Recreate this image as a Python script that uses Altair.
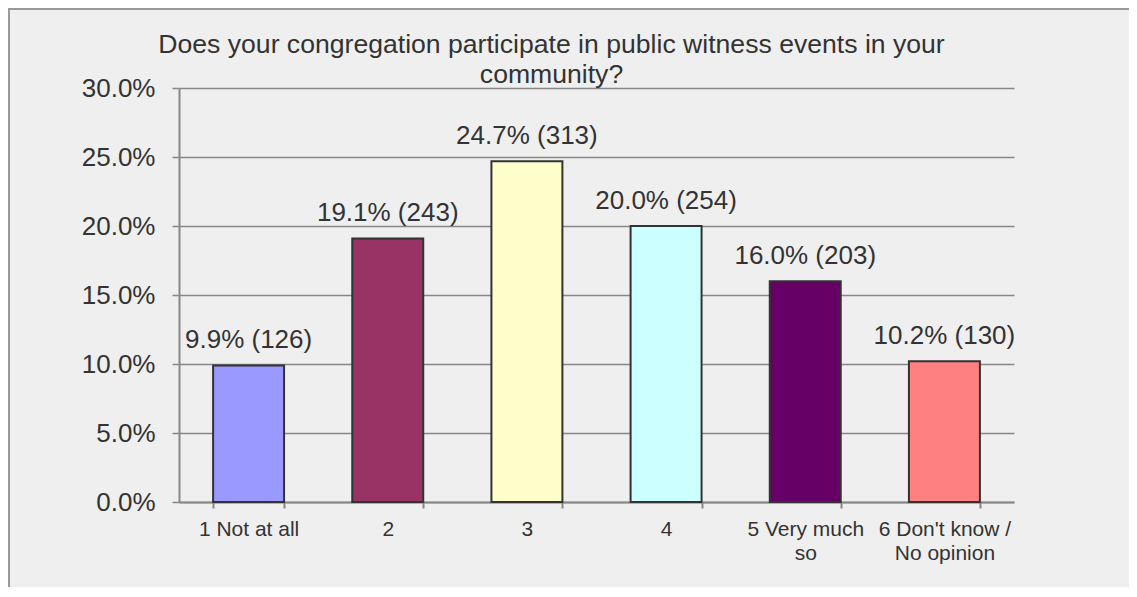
import altair as alt
import pandas as pd

categories = ["1 Not at all", "2", "3", "4", "5 Very much\nso", "6 Don't know /\nNo opinion"]
percents = [9.9, 19.1, 24.7, 20.0, 16.0, 10.2]
counts = [126, 243, 313, 254, 203, 130]
colors = ["#9999FF", "#993366", "#FFFFCC", "#CCFFFF", "#660066", "#FF8080"]
y_ticks = [0, 0.05, 0.10, 0.15, 0.20, 0.25, 0.30]
title_lines = ["Does your congregation participate in public witness events in your", "community?"]

FONT = "Liberation Sans"
TXT = "#333333"
GRID = "#878787"

df = pd.DataFrame({
    "cat": categories,
    "pct": [p / 100 for p in percents],
    "label": [f"{p:.1f}% ({c})" for p, c in zip(percents, counts)],
})

x = alt.X(
    "cat:N", sort=categories, title=None,
    scale=alt.Scale(paddingInner=0.49, paddingOuter=0.245),
    axis=alt.Axis(labelAngle=0, labelFontSize=21, labelColor=TXT, labelFont=FONT,
                  labelExpr="split(datum.label, '\\n')", labelLineHeight=24,
                  tickBand="extent", tickSize=6, tickColor=GRID, tickWidth=2,
                  domainColor=GRID, domainWidth=2, labelPadding=10, grid=False,
                  labelLimit=0),
)
y = alt.Y(
    "pct:Q", title=None,
    scale=alt.Scale(domain=[0, 0.3], nice=False),
    axis=alt.Axis(format=".1%", values=y_ticks, tickSize=7, labelFontSize=26,
                  labelFont=FONT, labelColor=TXT, labelPadding=17,
                  gridColor=GRID, gridWidth=1.5, domainColor=GRID, domainWidth=2,
                  tickColor=GRID, tickWidth=1.5),
)

bars = alt.Chart(df).mark_bar(stroke="#333333", strokeWidth=2).encode(
    x=x, y=y,
    color=alt.Color("cat:N", scale=alt.Scale(domain=categories, range=colors), legend=None),
)
labels = alt.Chart(df).mark_text(dy=-17, baseline="alphabetic", fontSize=26,
                                 font=FONT, color=TXT).encode(x=x, y=y, text="label")

frame_data = alt.Data(values=[{"a": 1}])
left_line = alt.Chart(frame_data).mark_rule(color="#999999", strokeWidth=2).encode(
    x=alt.value(-170), y=alt.value(-79), y2=alt.value(700))
top_line = alt.Chart(frame_data).mark_rule(color="#999999", strokeWidth=2).encode(
    x=alt.value(-171), x2=alt.value(1200), y=alt.value(-79))

chart = alt.layer(bars, labels, left_line, top_line).properties(
    width=835, height=414,
    autosize=alt.AutoSizeParams(type="none"),
    padding={"left": 171, "top": 80, "right": 115, "bottom": 85},
    background="#efefef",
    title=alt.TitleParams(text=title_lines, fontSize=26.6, font=FONT, fontWeight="normal",
                          color=TXT, lineHeight=30, anchor="middle", frame="group",
                          dx=-45, offset=-81),
).configure_view(strokeWidth=0)

chart.save("out.html", embed_options={"renderer": "svg", "actions": False})
